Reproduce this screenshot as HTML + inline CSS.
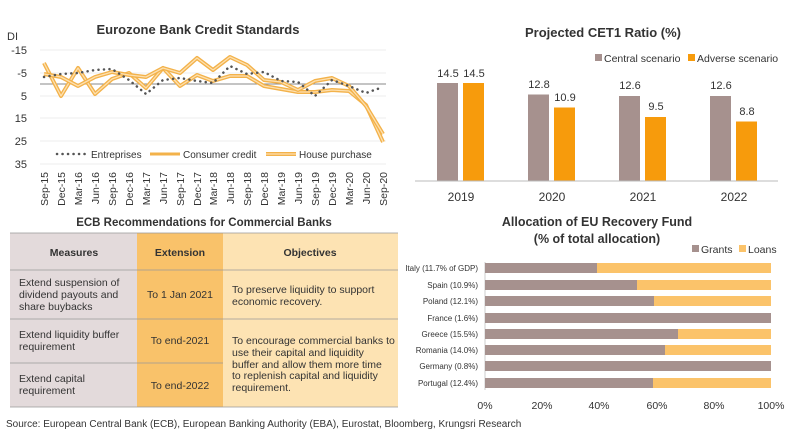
<!DOCTYPE html>
<html><head><meta charset="utf-8"><style>
body{margin:0;width:800px;height:435px;background:#fff;overflow:hidden;font-family:"Liberation Sans",sans-serif}
svg{position:absolute;left:0;top:0}
text{font-family:"Liberation Sans",sans-serif;fill:#333}
</style></head><body>
<svg width="800" height="435" viewBox="0 0 800 435">
<!-- Line chart -->
<text x="198" y="34" font-size="13" font-weight="bold" text-anchor="middle" fill="#222">Eurozone Bank Credit Standards</text>
<g font-size="11" text-anchor="end">
<text x="18" y="40">DI</text>
<text x="27" y="54">-15</text><text x="27" y="77">-5</text><text x="27" y="100">5</text>
<text x="27" y="122">15</text><text x="27" y="145">25</text><text x="27" y="168">35</text>
</g>
<g stroke="#eee" stroke-width="1">
<line x1="40" y1="50" x2="386" y2="50"/><line x1="40" y1="73" x2="386" y2="73"/><line x1="40" y1="96" x2="386" y2="96"/>
<line x1="40" y1="118" x2="386" y2="118"/><line x1="40" y1="141" x2="386" y2="141"/><line x1="40" y1="164" x2="386" y2="164"/>
</g>
<line x1="40" y1="84" x2="386" y2="84" stroke="#888" stroke-width="1"/>
<g fill="none" stroke-linejoin="round">
<polyline stroke="#f3b24a" stroke-width="4" points="44,63 61,96 78,68 95,94 112,79 129,73 146,88 163,68 180,86 197,75 213,81 230,76 247,76 264,86 281,89 298,92 315,92 332,90 349,91 366,105 383,142"/>
<polyline stroke="#fde0b0" stroke-width="1.3" points="44,63 61,96 78,68 95,94 112,79 129,73 146,88 163,68 180,86 197,75 213,81 230,76 247,76 264,86 281,89 298,92 315,92 332,90 349,91 366,105 383,142"/>
<polyline stroke="#f3b24a" stroke-width="4" points="44,74 61,77 78,86 95,77 112,72 129,75 146,77 163,68 180,73 197,58 213,70 230,57 247,65 264,80 281,82 298,90 315,81 332,78 349,86 366,106 383,134"/>
<polyline stroke="#fde0b0" stroke-width="1.3" points="44,74 61,77 78,86 95,77 112,72 129,75 146,77 163,68 180,73 197,58 213,70 230,57 247,65 264,80 281,82 298,90 315,81 332,78 349,86 366,106 383,134"/>
<polyline stroke="#555" stroke-width="2.5" stroke-dasharray="0.1 5.4" stroke-linecap="round" points="44,77 61,74 78,73 95,70 112,69 129,80 146,94 163,80 180,78 197,81 213,83 230,66 247,74 264,72 281,81 298,82 315,96 332,80 349,86 366,93 383,87"/>
</g>
<!-- legend -->
<line x1="57" y1="154" x2="88" y2="154" stroke="#555" stroke-width="2.5" stroke-dasharray="0.1 5.4" stroke-linecap="round"/>
<text x="91" y="158" font-size="10">Entreprises</text>
<line x1="150" y1="154" x2="180" y2="154" stroke="#f3b24a" stroke-width="3"/>
<text x="183" y="158" font-size="10">Consumer credit</text>
<line x1="266" y1="154" x2="296" y2="154" stroke="#f3b24a" stroke-width="4"/><line x1="266" y1="154" x2="296" y2="154" stroke="#fde0b0" stroke-width="1.3"/>
<text x="299" y="158" font-size="10">House purchase</text>
<g font-size="10.5" text-anchor="end">
<text transform="translate(48,172) rotate(-90)">Sep-15</text>
<text transform="translate(65,172) rotate(-90)">Dec-15</text>
<text transform="translate(82,172) rotate(-90)">Mar-16</text>
<text transform="translate(99,172) rotate(-90)">Jun-16</text>
<text transform="translate(116,172) rotate(-90)">Sep-16</text>
<text transform="translate(133,172) rotate(-90)">Dec-16</text>
<text transform="translate(150,172) rotate(-90)">Mar-17</text>
<text transform="translate(167,172) rotate(-90)">Jun-17</text>
<text transform="translate(184,172) rotate(-90)">Sep-17</text>
<text transform="translate(201,172) rotate(-90)">Dec-17</text>
<text transform="translate(217,172) rotate(-90)">Mar-18</text>
<text transform="translate(234,172) rotate(-90)">Jun-18</text>
<text transform="translate(251,172) rotate(-90)">Sep-18</text>
<text transform="translate(268,172) rotate(-90)">Dec-18</text>
<text transform="translate(285,172) rotate(-90)">Mar-19</text>
<text transform="translate(302,172) rotate(-90)">Jun-19</text>
<text transform="translate(319,172) rotate(-90)">Sep-19</text>
<text transform="translate(336,172) rotate(-90)">Dec-19</text>
<text transform="translate(353,172) rotate(-90)">Mar-20</text>
<text transform="translate(370,172) rotate(-90)">Jun-20</text>
<text transform="translate(387,172) rotate(-90)">Sep-20</text>
</g>

<!-- CET1 -->
<text x="603" y="37" font-size="13" font-weight="bold" text-anchor="middle" fill="#222">Projected CET1 Ratio (%)</text>
<rect x="595" y="54" width="7" height="7" fill="#a6918e"/><text x="604" y="62" font-size="10.5">Central scenario</text>
<rect x="688" y="54" width="7" height="7" fill="#f79b0c"/><text x="697" y="62" font-size="10.5">Adverse scenario</text>
<g fill="#a6918e"><rect x="437" y="83" width="21" height="98"/><rect x="528" y="94.5" width="21" height="86.5"/><rect x="619" y="96" width="21" height="85"/><rect x="710" y="96" width="21" height="85"/></g>
<g fill="#f79b0c"><rect x="463" y="83" width="21" height="98"/><rect x="554" y="107.5" width="21" height="73.5"/><rect x="645" y="117" width="21" height="64"/><rect x="736" y="121.5" width="21" height="59.5"/></g>
<line x1="415" y1="181" x2="778" y2="181" stroke="#bbb"/>
<g font-size="11" text-anchor="middle">
<text x="448" y="77">14.5</text><text x="474" y="77">14.5</text>
<text x="539" y="88">12.8</text><text x="565" y="101">10.9</text>
<text x="630" y="89">12.6</text><text x="656" y="110">9.5</text>
<text x="721" y="89">12.6</text><text x="747" y="115">8.8</text>
<text x="461" y="201" font-size="12">2019</text><text x="552" y="201" font-size="12">2020</text><text x="643" y="201" font-size="12">2021</text><text x="734" y="201" font-size="12">2022</text>
</g>

<!-- Table -->
<text x="204" y="226" font-size="11.5" font-weight="bold" text-anchor="middle" fill="#222">ECB Recommendations for Commercial Banks</text>
<rect x="10" y="233" width="127" height="174" fill="#e3dadb"/>
<rect x="137" y="233" width="86" height="174" fill="#f9c26a"/>
<rect x="223" y="233" width="175" height="174" fill="#fde3b3"/>
<g stroke="#999" stroke-width="0.8">
<line x1="10" y1="233" x2="398" y2="233"/><line x1="10" y1="270" x2="398" y2="270"/><line x1="10" y1="319" x2="398" y2="319"/>
<line x1="10" y1="363" x2="223" y2="363"/><line x1="10" y1="407" x2="398" y2="407"/>
</g>
<g font-size="10.5" font-weight="bold" text-anchor="middle" fill="#222">
<text x="74" y="256">Measures</text><text x="180" y="256">Extension</text><text x="310" y="256">Objectives</text>
</g>
<g font-size="10.5">
<text x="19" y="286">Extend suspension of</text><text x="19" y="298">dividend payouts and</text><text x="19" y="310">share buybacks</text>
<text x="19" y="338">Extend liquidity buffer</text><text x="19" y="350">requirement</text>
<text x="19" y="382">Extend capital</text><text x="19" y="394">requirement</text>
<text x="180" y="298" text-anchor="middle">To 1 Jan 2021</text>
<text x="180" y="344" text-anchor="middle">To end-2021</text>
<text x="180" y="389" text-anchor="middle">To end-2022</text>
<text x="232" y="293">To preserve liquidity to support</text><text x="232" y="305">economic recovery.</text>
<text x="232" y="344">To encourage commercial banks to</text><text x="232" y="356">use their capital and liquidity</text>
<text x="232" y="368">buffer and allow them more time</text><text x="232" y="379">to replenish capital and liquidity</text>
<text x="232" y="391">requirement.</text>
</g>
<text x="6" y="427" font-size="10" fill="#444">Source: European Central Bank (ECB), European Banking Authority (EBA), Eurostat, Bloomberg, Krungsri Research</text>

<!-- EU Recovery -->
<text x="597" y="226" font-size="12.5" font-weight="bold" text-anchor="middle" fill="#222">Allocation of EU Recovery Fund</text>
<text x="597" y="243" font-size="12.5" font-weight="bold" text-anchor="middle" fill="#222">(% of total allocation)</text>
<rect x="692" y="245" width="7" height="7" fill="#a6918e"/><text x="701" y="253" font-size="10.5">Grants</text>
<rect x="739" y="245" width="7" height="7" fill="#fbc36a"/><text x="748" y="253" font-size="10.5">Loans</text>
<line x1="485" y1="262" x2="485" y2="390" stroke="#ccc"/>
<g fill="#fbc36a">
<rect x="485" y="263" width="286" height="10"/><rect x="485" y="280" width="286" height="10"/><rect x="485" y="296" width="286" height="10"/><rect x="485" y="313" width="286" height="10"/>
<rect x="485" y="329" width="286" height="10"/><rect x="485" y="345" width="286" height="10"/><rect x="485" y="361" width="286" height="10"/><rect x="485" y="378" width="286" height="10"/>
</g>
<g fill="#a6918e">
<rect x="485" y="263" width="112" height="10"/><rect x="485" y="280" width="152" height="10"/><rect x="485" y="296" width="169" height="10"/><rect x="485" y="313" width="286" height="10"/>
<rect x="485" y="329" width="193" height="10"/><rect x="485" y="345" width="180" height="10"/><rect x="485" y="361" width="286" height="10"/><rect x="485" y="378" width="168" height="10"/>
</g>
<g font-size="8" text-anchor="end">
<text x="478" y="271">Italy (11.7% of GDP)</text><text x="478" y="288">Spain (10.9%)</text><text x="478" y="304">Poland (12.1%)</text><text x="478" y="321">France (1.6%)</text>
<text x="478" y="337">Greece (15.5%)</text><text x="478" y="353">Romania (14.0%)</text><text x="478" y="369">Germany (0.8%)</text><text x="478" y="386">Portugal (12.4%)</text>
</g>
<g font-size="10.5" text-anchor="middle">
<text x="485" y="409">0%</text><text x="542" y="409">20%</text><text x="599" y="409">40%</text><text x="657" y="409">60%</text><text x="714" y="409">80%</text><text x="771" y="409">100%</text>
</g>
</svg>
</body></html>
